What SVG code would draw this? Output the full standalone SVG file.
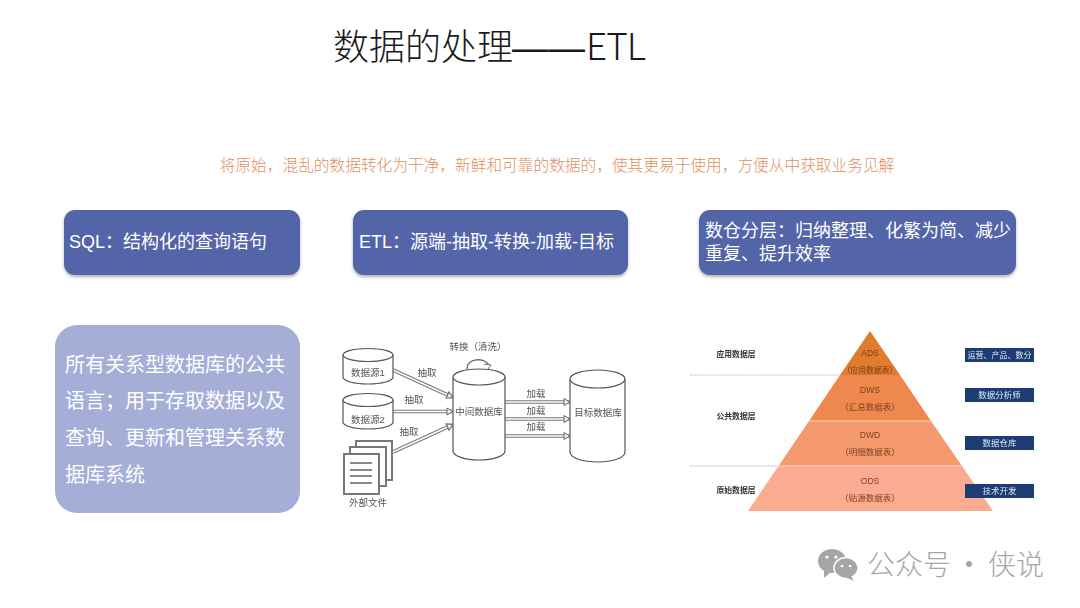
<svg xmlns="http://www.w3.org/2000/svg" width="1080" height="608" viewBox="0 0 1080 608">
<defs>
<style>
text{font-family:"Liberation Sans","Noto Sans CJK SC",sans-serif}
.cjk{font-family:"Noto Sans CJK SC",sans-serif}
.h{fill:#fff;font-size:18px}
.cyl{fill:#fff;stroke:#555;stroke-width:1.2}
.lb{fill:#555;font-size:9.500px;text-anchor:middle}
.pl{fill:#7a3f1e;font-size:8.500px;text-anchor:middle}
.side{fill:#333;font-size:7.800px;font-weight:bold;text-anchor:middle}
.tag{fill:#1f3d73}
.tt{fill:#dfe6f2;font-size:8.500px;text-anchor:middle}
.shaft{stroke:#777;stroke-width:3.6;fill:none}
.shaft2{stroke:#fff;stroke-width:1.6;fill:none}
</style>
<filter id="sh" x="-5%" y="-10%" width="110%" height="125%"><feDropShadow dx="0" dy="2" stdDeviation="1.5" flood-color="#555" flood-opacity=".45"/></filter>
<filter id="soft" x="-2%" y="-2%" width="104%" height="104%"><feGaussianBlur stdDeviation="0.4"/></filter>
<marker id="ah" markerUnits="userSpaceOnUse" markerWidth="8" markerHeight="10" refX="7" refY="5" orient="auto"><path d="M1 1.500L7 5L1 8.500Z" fill="#eee" stroke="#666"/></marker>
</defs>

<g id="title" fill="#1a1a1a" class="cjk">
<text x="333" y="60" font-size="36" font-weight="300" class="cjk">数据的处理</text>
<text x="512" y="60" font-size="36" textLength="73" lengthAdjust="spacingAndGlyphs">——</text>
<text x="586" y="60" font-size="37" textLength="61" lengthAdjust="spacing" letter-spacing="1" font-weight="200" class="cjk">ETL</text>
</g>
<text id="subtitle" x="557" y="171" font-size="15.700" fill="#dc9163" text-anchor="middle" class="cjk" font-weight="300">将原始，混乱的数据转化为干净，新鲜和可靠的数据的，使其更易于使用，方便从中获取业务见解</text>

<g id="box-sql"><rect x="64" y="210" width="236" height="65" rx="11" fill="#5365a8" filter="url(#sh)"/><text class="h" x="69" y="248">SQL：结构化的查询语句</text></g>
<g id="box-etl"><rect x="353" y="210" width="275" height="65" rx="11" fill="#5365a8" filter="url(#sh)"/><text class="h" x="359" y="248">ETL：源端-抽取-转换-加载-目标</text></g>
<g id="box-layer"><rect x="699" y="210" width="317" height="65" rx="11" fill="#5365a8" filter="url(#sh)"/><text class="h" x="705" y="237">数仓分层：归纳整理、化繁为简、减少</text><text class="h" x="705" y="260">重复、提升效率</text></g>
<g id="box-desc"><rect x="55" y="325" width="245" height="188" rx="22" fill="#a4aed6"/>
<g fill="#fff" font-size="20"><text x="65" y="372">所有关系型数据库的公共</text><text x="65" y="408">语言；用于存取数据以及</text><text x="65" y="445">查询、更新和管理关系数</text><text x="65" y="482">据库系统</text></g></g>

<g filter="url(#soft)">
<g id="connectors">
<path class="shaft" d="M393 370L452 397"/><path class="shaft" d="M393 411.500L452 411.500"/><path class="shaft" d="M393 452L452 425"/><path class="shaft" d="M505 402L569 402"/><path class="shaft" d="M505 419L569 419"/><path class="shaft" d="M505 436L569 436"/>
<path class="shaft2" d="M393 370L453 397.500" marker-end="url(#ah)"/><path class="shaft2" d="M393 411.500L453 411.500" marker-end="url(#ah)"/><path class="shaft2" d="M393 452L453 424.500" marker-end="url(#ah)"/><path class="shaft2" d="M505 402L570 402" marker-end="url(#ah)"/><path class="shaft2" d="M505 419L570 419" marker-end="url(#ah)"/><path class="shaft2" d="M505 436L570 436" marker-end="url(#ah)"/>
<path d="M467 369C467 358 484 357 489 365" fill="none" stroke="#666" stroke-width="1.4"/><path d="M484 364L491 365L488 369" fill="#fff" stroke="#666"/>
</g>
<g id="db1"><path class="cyl" d="M343 355V377C343 381 354 384 368 384S393 381 393 377V355"/><ellipse class="cyl" cx="368" cy="355" rx="25" ry="6.500"/><text class="lb" x="368" y="376">数据源1</text></g>
<g id="db2"><path class="cyl" d="M343 400V422C343 426 354 429 368 429S393 426 393 422V400"/><ellipse class="cyl" cx="368" cy="400" rx="25" ry="6.500"/><text class="lb" x="368" y="423">数据源2</text></g>
<g id="db-mid"><path class="cyl" d="M453 377V451C453 456 465 460 479 460S505 456 505 451V377"/><ellipse class="cyl" cx="479" cy="377" rx="26" ry="8"/><text class="lb" x="479" y="415">中间数据库</text></g>
<g id="db-target"><path class="cyl" d="M570 379V452C570 458 583 462 597.500 462S625 458 625 452V379"/><ellipse class="cyl" cx="597.500" cy="379" rx="27.500" ry="9"/><text class="lb" x="598" y="416">目标数据库</text></g>
<g id="files" fill="#fff" stroke="#777" stroke-width="2"><rect x="356" y="441" width="36" height="39"/><rect x="350" y="447" width="36" height="39"/><rect x="344" y="454" width="35" height="40"/><path d="M350 463H372M350 470H372M350 476H372M350 483H372" stroke="#666" stroke-width="1.500"/></g>
<g id="etl-labels"><text class="lb" x="427" y="376">抽取</text><text class="lb" x="414" y="403">抽取</text><text class="lb" x="409" y="435">抽取</text><text class="lb" x="536" y="397">加载</text><text class="lb" x="536" y="414">加载</text><text class="lb" x="536" y="430">加载</text><text class="lb" x="478" y="350">转换（清洗）</text><text class="lb" x="368" y="506">外部文件</text></g>

<g id="pyramid">
<path d="M690 375H840M690 466H778" stroke="#bbb" stroke-dasharray="1.500 1" fill="none"/>
<path id="ods" d="M778.500 466H962L993 511H748Z" fill="#fbac90"/>
<path id="dwd" d="M778.500 466L809 421H931L962 466Z" fill="#f59a6e"/>
<path id="dws" d="M809 421L840 375H900L931 421Z" fill="#ef8850"/>
<path id="ads" d="M840 375L870 331L900 375Z" fill="#e07b2e"/>
<path d="M809 421H931M778 466H962" stroke="#fbd3bd" stroke-width="1"/>
<text class="pl" x="870" y="356">ADS</text><text class="pl" x="870" y="373" style="font-size:7.800px">（应用数据表）</text>
<text class="pl" x="870" y="393">DWS</text><text class="pl" x="870" y="410">（汇总数据表）</text>
<text class="pl" x="870" y="438">DWD</text><text class="pl" x="870" y="455">（明细数据表）</text>
<text class="pl" x="870" y="484">ODS</text><text class="pl" x="870" y="501">（贴源数据表）</text>
<text class="side" x="736" y="357">应用数据层</text><text class="side" x="736" y="419">公共数据层</text><text class="side" x="736" y="493">原始数据层</text>
</g>
<g id="tag1"><rect class="tag" x="965" y="348" width="69" height="14"/><text class="tt" x="999.500" y="358" style="font-size:8px">运营、产品、数分</text></g>
<g id="tag2"><rect class="tag" x="965" y="388" width="69" height="14"/><text class="tt" x="999.500" y="398">数据分析师</text></g>
<g id="tag3"><rect class="tag" x="965" y="436" width="69" height="14"/><text class="tt" x="999.500" y="446">数据仓库</text></g>
<g id="tag4"><rect class="tag" x="965" y="484" width="69" height="14"/><text class="tt" x="999.500" y="494">技术开发</text></g>
</g>

<g id="watermark" fill="#a6a6a6">
<ellipse cx="832" cy="561" rx="14" ry="12"/><ellipse cx="846" cy="568" rx="12" ry="10.500" stroke="#fff" stroke-width="1.500"/>
<path d="M824 571L824 578L831 572Z"/><path d="M851 576L854 581L845 577Z"/>
<circle cx="827" cy="557" r="1.600" fill="#fff"/><circle cx="836" cy="557" r="1.600" fill="#fff"/><circle cx="842" cy="566" r="1.300" fill="#fff"/><circle cx="850" cy="566" r="1.300" fill="#fff"/>
<text x="867" y="575" font-size="28" class="cjk" font-weight="300">公众号</text>
<text x="955" y="575" font-size="28" class="cjk">·</text>
<text x="988" y="575" font-size="28" class="cjk" font-weight="300">侠说</text>
</g>
</svg>
